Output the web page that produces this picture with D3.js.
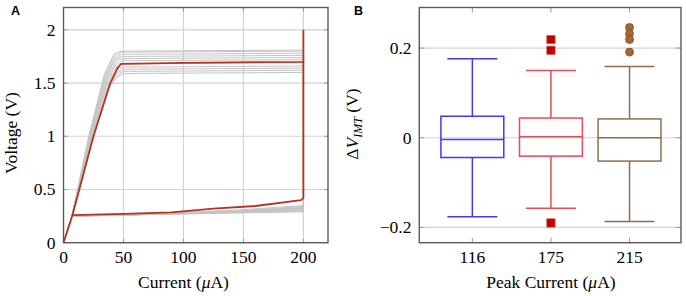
<!DOCTYPE html>
<html>
<head>
<meta charset="utf-8">
<script src="https://cdn.jsdelivr.net/npm/d3@7"></script>
<style>
  body { margin: 0; background: #fff; }
  svg text { font-family: "Liberation Serif", "Times New Roman", serif; fill: #000; }
  .panel-tag { font-family: "Liberation Sans", Arial, sans-serif; font-weight: bold; font-size: 12.5px; }
</style>
</head>
<body>
<div id="chart"></div>
<script>
// ---- data: panel A (current in uA, voltage in V) ----
let redUpper = [[0,0],[7.5,0.26],[25,1.0],[39,1.5],[45,1.64],[48,1.68],[100,1.69],[200,1.70],[200,2.0]];
let redLower = [[7.5,0.26],[50,0.27],[90,0.285],[125,0.32],[160,0.345],[198,0.40],[200,0.42],[200,1.70]];

let grayCurves = [
    [[0,0],[7,0.25],[24,0.98],[38,1.45],[44,1.55],[50,1.59],[200,1.60],[200,0.29],[150,0.28],[100,0.27],[50,0.26],[7,0.25]],
    [[0,0],[7,0.25],[24,0.99],[38,1.47],[44,1.57],[50,1.61],[200,1.62],[200,0.30],[150,0.285],[100,0.27],[50,0.26],[7,0.25]],
    [[0,0],[7,0.25],[24,1.0],[38,1.49],[44,1.59],[50,1.63],[200,1.64],[200,0.31],[150,0.29],[100,0.275],[50,0.26],[7,0.25]],
    [[0,0],[7,0.25],[24,1.01],[37,1.5],[44,1.62],[50,1.65],[200,1.66],[200,0.32],[150,0.295],[100,0.275],[50,0.26],[7,0.25]],
    [[0,0],[7,0.25],[23,1.0],[37,1.52],[44,1.65],[50,1.68],[200,1.69],[200,0.30],[150,0.29],[100,0.275],[50,0.26],[7,0.25]],
    [[0,0],[7,0.25],[23,1.01],[36,1.52],[44,1.68],[50,1.71],[200,1.72],[200,0.33],[150,0.30],[100,0.28],[50,0.265],[7,0.25]],
    [[0,0],[7,0.25],[23,1.02],[36,1.54],[44,1.71],[50,1.73],[200,1.74],[200,0.34],[150,0.305],[100,0.28],[50,0.265],[7,0.25]],
    [[0,0],[7,0.25],[22,1.0],[35,1.54],[43,1.72],[49,1.75],[200,1.76],[200,0.32],[150,0.30],[100,0.28],[50,0.265],[7,0.25]],
    [[0,0],[7,0.25],[22,1.01],[35,1.56],[43,1.74],[49,1.77],[200,1.78],[200,0.35],[150,0.31],[100,0.285],[50,0.265],[7,0.25]],
    [[0,0],[7,0.25],[22,1.02],[34,1.56],[42,1.75],[48,1.79],[200,1.80],[200,0.33],[150,0.30],[100,0.28],[50,0.265],[7,0.25]],
    [[0,0],[7,0.25],[21,1.0],[34,1.58],[42,1.77],[48,1.80],[200,1.81],[200,0.31],[150,0.29],[100,0.275],[50,0.26],[7,0.25]]
];

let xTicksA = [0, 50, 100, 150, 200];
let yTicksA = [0, 0.5, 1, 1.5, 2];
let yTickLabelsA = ["0", "0.5", "1", "1.5", "2"];

// ---- data: panel B (box plots of delta V_IMT) ----
let peakCurrents = ["116", "175", "215"];
let q1 = [-0.044, -0.041, -0.052];
let medians = [-0.004, 0.002, 0.0];
let q3 = [0.048, 0.044, 0.042];
let whiskerLow = [-0.176, -0.157, -0.187];
let whiskerHigh = [0.176, 0.150, 0.159];
let outliers175 = [0.219, 0.195, -0.190];
let outliers215 = [0.246, 0.232, 0.219, 0.191];
let yTicksB = [-0.2, 0, 0.2];
let yTickLabelsB = ["\u22120.2", "0", "0.2"];
let boxColors = ["#3a3aff", "#ea4a52", "#8d6e50"];

const W = 686, H = 296;
const svg = d3.select("#chart").append("svg").attr("width", W).attr("height", H);

const gridColor = "#d3d3d3", frameColor = "#5a5a5a", tickColor = "#9a9a9a";

// ================= panel A =================
let A = {left: 63.5, right: 328, top: 7.5, bottom: 242.7};
let xA = d3.scaleLinear().domain([0, 220.5]).range([A.left, A.right]);
let yA = d3.scaleLinear().domain([0, 2.21]).range([A.bottom, A.top]);

let gA = svg.append("g");

// grid
gA.selectAll(".gx").data(xTicksA.slice(1)).enter().append("line")
    .attr("x1", d => xA(d)).attr("x2", d => xA(d))
    .attr("y1", A.top).attr("y2", A.bottom)
    .attr("stroke", gridColor).attr("stroke-width", 1.2);
gA.selectAll(".gy").data(yTicksA.slice(1)).enter().append("line")
    .attr("x1", A.left).attr("x2", A.right)
    .attr("y1", d => yA(d)).attr("y2", d => yA(d))
    .attr("stroke", gridColor).attr("stroke-width", 1.2);

// ticks on frame
xTicksA.forEach(t => {
    gA.append("line").attr("x1", xA(t)).attr("x2", xA(t)).attr("y1", A.bottom).attr("y2", A.bottom - 4).attr("stroke", tickColor);
    gA.append("line").attr("x1", xA(t)).attr("x2", xA(t)).attr("y1", A.top).attr("y2", A.top + 4).attr("stroke", tickColor);
});
yTicksA.forEach(t => {
    gA.append("line").attr("x1", A.left).attr("x2", A.left + 4).attr("y1", yA(t)).attr("y2", yA(t)).attr("stroke", tickColor);
    gA.append("line").attr("x1", A.right).attr("x2", A.right - 4).attr("y1", yA(t)).attr("y2", yA(t)).attr("stroke", tickColor);
});

let lineA = d3.line().x(d => xA(d[0])).y(d => yA(d[1]));

gA.selectAll(".gray").data(grayCurves).enter().append("path")
    .attr("d", lineA)
    .attr("fill", "none")
    .attr("stroke", "#c4c4c4")
    .attr("stroke-width", 1);

[redUpper, redLower].forEach(c => {
    gA.append("path").attr("d", lineA(c))
        .attr("fill", "none").attr("stroke", "#b8321e")
        .attr("stroke-width", 1.8).attr("stroke-linejoin", "round");
});

// frame
gA.append("rect").attr("x", A.left).attr("y", A.top)
    .attr("width", A.right - A.left).attr("height", A.bottom - A.top)
    .attr("fill", "none").attr("stroke", frameColor).attr("stroke-width", 1.4);

// tick labels
gA.selectAll(".xl").data(xTicksA).enter().append("text")
    .attr("x", d => xA(d)).attr("y", 263)
    .attr("text-anchor", "middle").style("font-size", "17.5px")
    .text(d => d);
gA.selectAll(".yl").data(yTicksA).enter().append("text")
    .attr("x", 55.5).attr("y", d => yA(d) + 6)
    .attr("text-anchor", "end").style("font-size", "17.5px")
    .text((d, i) => yTickLabelsA[i]);

let xlabA = gA.append("text").attr("x", xA(100)).attr("y", 288)
    .attr("text-anchor", "middle").style("font-size", "17.5px");
xlabA.append("tspan").text("Current (");
xlabA.append("tspan").style("font-style", "italic").text("\u03bc");
xlabA.append("tspan").text("A)");

gA.append("text").attr("transform", "translate(17,133) rotate(-90)")
    .attr("text-anchor", "middle").style("font-size", "17.5px")
    .text("Voltage (V)");

gA.append("text").attr("class", "panel-tag").attr("x", 11).attr("y", 14.5).text("A");

// ================= panel B =================
let B = {left: 419.3, right: 681, top: 7.5, bottom: 242.7};
let xB = d3.scaleLinear().domain([0.325, 3.655]).range([B.left, B.right]);
let yB = d3.scaleLinear().domain([-0.234, 0.2905]).range([B.bottom, B.top]);

let gB = svg.append("g");

gB.selectAll(".gy").data(yTicksB).enter().append("line")
    .attr("x1", B.left).attr("x2", B.right)
    .attr("y1", d => yB(d)).attr("y2", d => yB(d))
    .attr("stroke", gridColor).attr("stroke-width", 1.2);

peakCurrents.forEach((c, i) => {
    gB.append("line").attr("x1", xB(i + 1)).attr("x2", xB(i + 1)).attr("y1", B.bottom).attr("y2", B.bottom - 5).attr("stroke", tickColor);
    gB.append("line").attr("x1", xB(i + 1)).attr("x2", xB(i + 1)).attr("y1", B.top).attr("y2", B.top + 5).attr("stroke", tickColor);
});
yTicksB.forEach(t => {
    gB.append("line").attr("x1", B.left).attr("x2", B.left + 5).attr("y1", yB(t)).attr("y2", yB(t)).attr("stroke", tickColor);
    gB.append("line").attr("x1", B.right).attr("x2", B.right - 5).attr("y1", yB(t)).attr("y2", yB(t)).attr("stroke", tickColor);
});

let boxHalf = 0.4, capHalf = 0.318;
peakCurrents.forEach((c, i) => {
    let p = i + 1, col = boxColors[i];
    let g = gB.append("g").attr("stroke", col).attr("stroke-width", 1.5).attr("fill", "none");
    // whiskers
    g.append("line").attr("x1", xB(p)).attr("x2", xB(p)).attr("y1", yB(q3[i])).attr("y2", yB(whiskerHigh[i]));
    g.append("line").attr("x1", xB(p)).attr("x2", xB(p)).attr("y1", yB(q1[i])).attr("y2", yB(whiskerLow[i]));
    g.append("line").attr("x1", xB(p - capHalf)).attr("x2", xB(p + capHalf)).attr("y1", yB(whiskerHigh[i])).attr("y2", yB(whiskerHigh[i]));
    g.append("line").attr("x1", xB(p - capHalf)).attr("x2", xB(p + capHalf)).attr("y1", yB(whiskerLow[i])).attr("y2", yB(whiskerLow[i]));
    // box
    g.append("rect").attr("x", xB(p - boxHalf)).attr("y", yB(q3[i]))
        .attr("width", xB(p + boxHalf) - xB(p - boxHalf)).attr("height", yB(q1[i]) - yB(q3[i]));
    g.append("line").attr("x1", xB(p - boxHalf)).attr("x2", xB(p + boxHalf)).attr("y1", yB(medians[i])).attr("y2", yB(medians[i]));
});

// outliers
gB.selectAll(".sq").data(outliers175).enter().append("rect")
    .attr("x", xB(2) - 4.2).attr("y", d => yB(d) - 4.2)
    .attr("width", 8.4).attr("height", 8.4)
    .attr("fill", "#c20000").attr("stroke", "#e86060").attr("stroke-width", 0.6);
gB.selectAll(".ci").data(outliers215).enter().append("circle")
    .attr("cx", xB(3)).attr("cy", d => yB(d)).attr("r", 4)
    .attr("fill", "#a3672f").attr("stroke", "#7a5535").attr("stroke-width", 0.8);

gB.append("rect").attr("x", B.left).attr("y", B.top)
    .attr("width", B.right - B.left).attr("height", B.bottom - B.top)
    .attr("fill", "none").attr("stroke", frameColor).attr("stroke-width", 1.4);

gB.selectAll(".xl").data(peakCurrents).enter().append("text")
    .attr("x", (d, i) => xB(i + 1)).attr("y", 263)
    .attr("text-anchor", "middle").style("font-size", "17.5px")
    .text(d => d);
gB.selectAll(".yl").data(yTicksB).enter().append("text")
    .attr("x", 411.5).attr("y", d => yB(d) + 6)
    .attr("text-anchor", "end").style("font-size", "17.5px")
    .text((d, i) => yTickLabelsB[i]);

let xlabB = gB.append("text").attr("x", xB(2)).attr("y", 288)
    .attr("text-anchor", "middle").style("font-size", "17.5px");
xlabB.append("tspan").text("Peak Current (");
xlabB.append("tspan").style("font-style", "italic").text("\u03bc");
xlabB.append("tspan").text("A)");

let ylabB = gB.append("text").attr("transform", "translate(358,124) rotate(-90)")
    .attr("text-anchor", "middle").style("font-size", "17.5px");
ylabB.append("tspan").text("\u0394");
ylabB.append("tspan").style("font-style", "italic").text("V");
ylabB.append("tspan").style("font-style", "italic").style("font-size", "12px").attr("dy", 4).text("IMT");
ylabB.append("tspan").attr("dy", -4).text(" (V)");

gB.append("text").attr("class", "panel-tag").attr("x", 354).attr("y", 14.5).text("B");
</script>
</body>
</html>
